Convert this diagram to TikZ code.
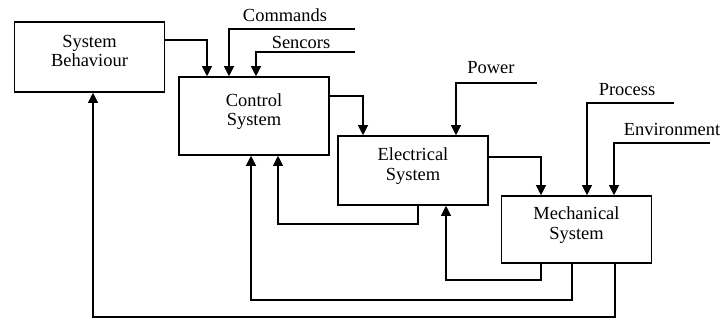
\documentclass[tikz,border=0pt]{standalone}
\usepackage{fontspec}
\setmainfont{Liberation Serif}
\usetikzlibrary{arrows.meta, positioning}

\begin{document}
\begin{tikzpicture}[
        x=0.02cm, y=-0.02cm,
        every node/.style={font=\fontsize{10.5}{11}\selectfont, align=center},
        sysbox/.style={rectangle, draw=black, line width=0.9pt, minimum width=3cm, inner sep=2pt, text depth=0.25cm},
        lbl/.style={inner sep=1pt},
        arr/.style={-{Triangle[length=0.2cm, width=0.2cm]}, line width=0.6pt, black}
    ]
        \useasboundingbox (0,0) rectangle (723,320);

        % Boxes
        \node[sysbox, minimum height=1.40cm] (sb) at ( 89.5,  57.0) {System\\ Behaviour};
        \node[sysbox, minimum height=1.56cm] (cs) at (254.0, 116.0) {Control\\ System};
        \node[sysbox, minimum height=1.38cm] (es) at (413.0, 170.5) {Electrical\\ System};
        \node[sysbox, minimum height=1.34cm] (ms) at (576.5, 229.5) {Mechanical\\ System};

        % External inputs
        \coordinate (cmd)  at (355,  29);
        \coordinate (sen)  at (355,  52);
        \coordinate (pow)  at (537,  83);
        \coordinate (proc) at (674, 103);
        \coordinate (env)  at (710, 143);

        \node[lbl] (cmdlbl)  at (285,  15) {Commands};
        \node[lbl] (senlbl)  at (301,  42) {Sencors};
        \node[lbl] (powlbl)  at (491,  68) {Power};
        \node[lbl] (proclbl) at (627,  90) {Process};
        \node[lbl] (envlbl)  at (672, 129) {Environment};

        % Forward path
        \draw[arr] (sb.east |- 0,40)  -| (cs.north -| 207,0);
        \draw[arr] (cmd)              -| (cs.north -| 229,0);
        \draw[arr] (sen)              -| (cs.north -| 256,0);
        \draw[arr] (cs.east |- 0,96)  -| (es.north -| 363,0);
        \draw[arr] (pow)              -| (es.north -| 456,0);
        \draw[arr] (es.east |- 0,157) -| (ms.north -| 541,0);
        \draw[arr] (proc)             -| (ms.north -| 587,0);
        \draw[arr] (env)              -| (ms.north -| 614,0);

        % Feedback
        \draw[arr] (ms.south -| 541,0) -- (541,280) -| (es.south -| 446,0);
        \draw[arr] (es.south -| 418,0) -- (418,224) -| (cs.south -| 278,0);
        \draw[arr] (ms.south -| 572,0) -- (572,300) -| (cs.south -| 251,0);
        \draw[arr] (ms.south -| 615,0) -- (615,317) -| (sb.south -| 93,0);
    \end{tikzpicture}
\end{document}
